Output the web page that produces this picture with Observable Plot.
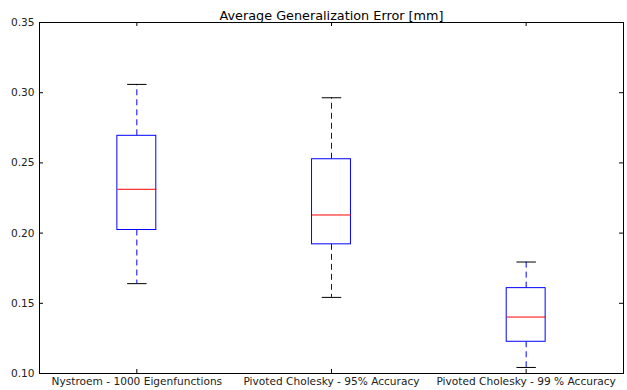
<!DOCTYPE html>
<html>
<head>
<meta charset="utf-8">
<script src="https://cdn.jsdelivr.net/npm/d3@7"></script>
<script src="https://cdn.jsdelivr.net/npm/@observablehq/plot@0.6"></script>
<style>
  html, body { margin: 0; padding: 0; background: #fff; }
  #chart svg { display: block; }
</style>
</head>
<body>
<div id="chart"></div>
<script>
const title = "Average Generalization Error [mm]";
const categories = ["Nystroem - 1000 Eigenfunctions", "Pivoted Cholesky - 95% Accuracy", "Pivoted Cholesky - 99 % Accuracy"];
const positions = [1, 2, 3];
const whiskerLow = [0.1640, 0.1542, 0.1043];
const q1 = [0.2022, 0.1920, 0.1226];
const median = [0.2312, 0.2129, 0.1402];
const q3 = [0.2693, 0.2526, 0.1608];
const whiskerHigh = [0.3059, 0.2964, 0.1794];
const yTicks = [0.10, 0.15, 0.20, 0.25, 0.30, 0.35];

const boxes = positions.map((p, i) => ({
  pos: p, name: categories[i], lo: whiskerLow[i], q1: q1[i], med: median[i], q3: q3[i], hi: whiskerHigh[i]
}));

const W = 627, H = 390;
const mL = 39, mR = 4, mT = 22, mB = 17;
const plotW = W - mL - mR;
const tickLen = 4;
const font = "DejaVu Sans, sans-serif";
const half = 0.1, capHalf = 0.05;

const chart = Plot.plot({
  width: W,
  height: H,
  marginLeft: mL,
  marginRight: mR,
  marginTop: mT,
  marginBottom: mB,
  style: { fontFamily: font, fontSize: "10.6px", color: "#222", background: "#fff" },
  x: { domain: [0.5, 3.5], label: null },
  y: { domain: [0.10, 0.35], label: null },
  marks: [
    Plot.ruleX(boxes, { x: "pos", y1: "q3", y2: "hi", stroke: "#0000ff", strokeWidth: 1, strokeDasharray: "6,4" }),
    Plot.ruleX(boxes, { x: "pos", y1: "q1", y2: "lo", stroke: "#0000ff", strokeWidth: 1, strokeDasharray: "6,4" }),
    Plot.link(boxes, { x1: d => d.pos - capHalf, x2: d => d.pos + capHalf, y1: "hi", y2: "hi", stroke: "#000", strokeWidth: 1 }),
    Plot.link(boxes, { x1: d => d.pos - capHalf, x2: d => d.pos + capHalf, y1: "lo", y2: "lo", stroke: "#000", strokeWidth: 1 }),
    Plot.rect(boxes, { x1: d => d.pos - half, x2: d => d.pos + half, y1: "q1", y2: "q3", fill: "#fff", stroke: "#0000ff", strokeWidth: 1 }),
    Plot.link(boxes, { x1: d => d.pos - half, x2: d => d.pos + half, y1: "med", y2: "med", stroke: "#ff0000", strokeWidth: 1 }),
    Plot.ruleY(yTicks.slice(1, -1), { y: d => d, insetRight: plotW - tickLen, stroke: "#000", strokeWidth: 1 }),
    Plot.ruleY(yTicks.slice(1, -1), { y: d => d, insetLeft: plotW - tickLen, stroke: "#000", strokeWidth: 1 }),
    Plot.ruleX(positions, { x: d => d, y1: 0.10, y2: 0.10 + 0.25 * tickLen / (H - mT - mB), stroke: "#000", strokeWidth: 1 }),
    Plot.ruleX(positions, { x: d => d, y1: 0.35, y2: 0.35 - 0.25 * tickLen / (H - mT - mB), stroke: "#000", strokeWidth: 1 }),
    Plot.frame({ stroke: "#000", strokeWidth: 1 }),
    Plot.axisY(yTicks, { tickSize: 0, tickPadding: 5, tickFormat: d3.format(".2f"), fontSize: 10.6, fill: "#222", label: null }),
    Plot.axisX(positions, { tickSize: 0, tickPadding: 4, tickFormat: d => categories[d - 1], fontSize: 10.6, fill: "#222", label: null }),
    Plot.text([title], { frameAnchor: "top", dy: -12, fontSize: 12.8, fill: "#000", text: d => d })
  ]
});

document.getElementById("chart").appendChild(chart);
</script>
</body>
</html>
